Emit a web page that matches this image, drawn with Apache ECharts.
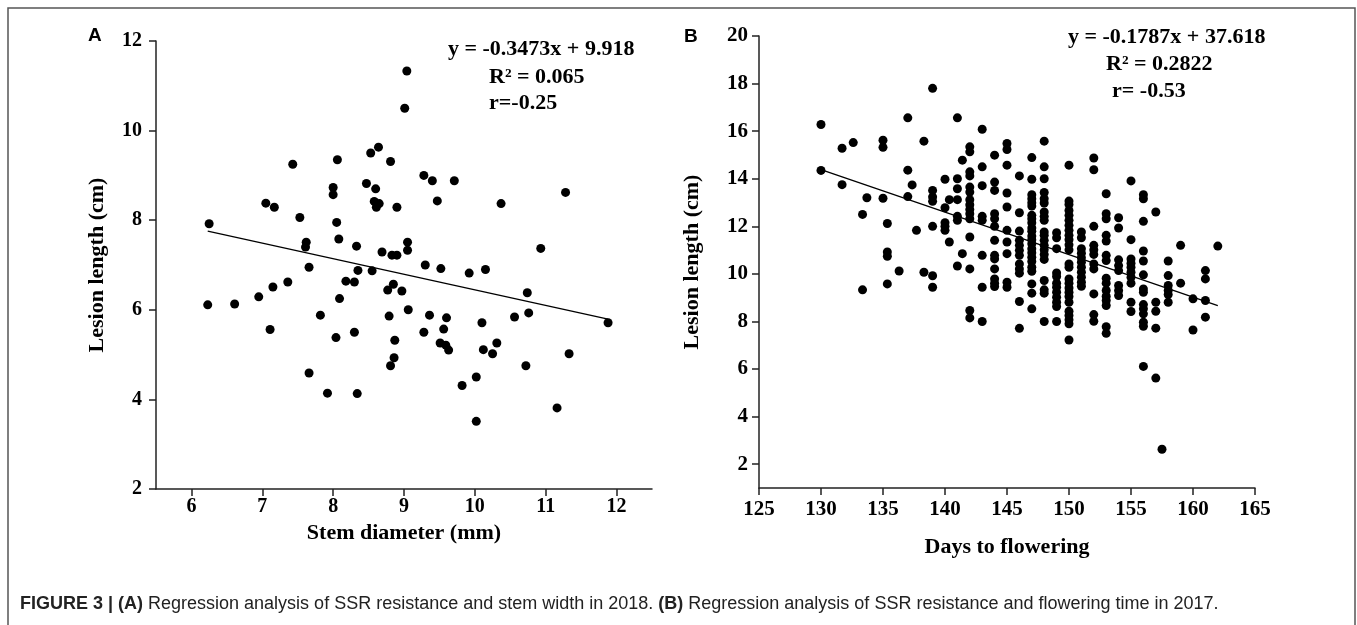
<!DOCTYPE html>
<html lang="en">
<head>
<meta charset="utf-8">
<style>
  html, body { margin: 0; padding: 0; background: #fff; }
  #chart { width: 1357px; height: 625px; }
</style>
</head>
<body>
<div id="chart"></div>
<script src="https://cdn.jsdelivr.net/npm/echarts@6/dist/echarts.min.js"></script>
<script>
// panel A: stem diameter (mm) vs lesion length (cm), 2018
var stemDiameter = [
  9.04, 9.01, 8.64, 8.53, 7.43, 8.06, 8.81, 8.47, 8.60, 8.00,
  8.00, 9.28, 9.40, 9.71, 7.05, 7.17, 8.58, 8.65, 8.61, 8.90,
  9.47, 7.53, 8.05, 6.25, 7.62, 7.61, 8.08, 8.33, 8.69, 8.83,
  8.90, 9.05, 9.05, 9.30, 9.52, 7.66, 8.35, 8.55, 8.18, 8.30,
  7.36, 7.15, 6.95, 6.61, 6.23, 8.85, 8.77, 8.97, 8.09, 9.06,
  7.82, 8.79, 9.36, 9.60, 9.56, 7.11, 8.30, 9.28, 8.04, 8.87,
  9.51, 9.59, 9.63, 8.86, 8.81, 7.66, 7.92, 8.34, 11.28, 10.37,
  10.93, 9.92, 10.15, 10.74, 10.56, 10.76, 10.10, 11.88, 10.31, 10.12,
  10.25, 11.33, 10.72, 10.02, 9.82, 11.16, 10.02
];
var lesionA = [
  11.33, 10.50, 9.63, 9.50, 9.25, 9.35, 9.31, 8.82, 8.70, 8.73,
  8.57, 9.00, 8.88, 8.88, 8.38, 8.29, 8.42, 8.37, 8.29, 8.29,
  8.43, 8.06, 7.95, 7.92, 7.51, 7.40, 7.58, 7.42, 7.29, 7.22,
  7.22, 7.51, 7.33, 7.00, 6.92, 6.95, 6.88, 6.87, 6.64, 6.62,
  6.62, 6.51, 6.29, 6.13, 6.11, 6.57, 6.44, 6.42, 6.25, 6.00,
  5.88, 5.86, 5.88, 5.82, 5.57, 5.56, 5.50, 5.50, 5.38, 5.32,
  5.26, 5.21, 5.10, 4.93, 4.75, 4.59, 4.14, 4.13, 8.62, 8.37,
  7.37, 6.82, 6.90, 6.38, 5.84, 5.93, 5.71, 5.71, 5.26, 5.11,
  5.02, 5.02, 4.75, 4.50, 4.31, 3.81, 3.51
];
var fitA = [-0.3473, 9.918];

// panel B: days to flowering vs lesion length (cm), 2017
var flowerDays = [
  130, 131.7, 132.6, 133.35, 133.7, 135, 135.35, 136.3, 137, 137.35,
  137.7, 138.3, 139, 140, 140.35, 141, 141.4, 142, 143, 144,
  145, 146, 147, 148, 149, 150, 151, 152, 153, 154,
  155, 156, 157, 157.5, 158, 159, 160, 161, 162
];
var lesionB = [
  [16.28, 14.35],
  [15.28, 13.75],
  [15.52],
  [12.50, 9.33],
  [13.20],
  [15.62, 15.32, 13.18],
  [12.12, 10.92, 10.74, 9.58],
  [10.12],
  [16.56, 14.36, 13.25],
  [13.74],
  [11.83],
  [15.58, 10.07],
  [17.80, 13.51, 13.23, 13.05, 12.00, 9.92, 9.44],
  [13.98, 12.78, 12.15, 12.00, 11.83],
  [13.12, 11.34],
  [16.56, 14.00, 13.58, 13.12, 12.42, 12.25, 10.33],
  [14.78, 10.85],
  [15.34, 15.13, 14.29, 14.12, 13.65, 13.44, 13.12, 12.91, 12.71, 12.53, 12.32, 11.55, 10.21, 8.46, 8.15],
  [16.08, 14.50, 13.71, 12.42, 12.25, 10.78, 9.44, 8.00],
  [14.99, 13.86, 13.51, 12.53, 12.32, 12.00, 11.41, 10.78, 10.63, 10.21, 9.79, 9.61, 9.47],
  [15.48, 15.23, 14.57, 13.40, 12.81, 11.83, 11.34, 10.85, 9.65, 9.44],
  [14.12, 12.57, 11.80, 11.41, 11.20, 10.99, 10.78, 10.42, 10.21, 10.03, 8.84, 7.71],
  [14.89, 13.98, 13.33, 13.16, 12.99, 12.85, 12.46, 12.32, 12.15, 11.93, 11.79, 11.59, 11.44, 11.27, 11.06, 10.89, 10.70, 10.52, 10.28, 10.11, 9.58, 9.19, 8.53],
  [15.58, 14.50, 14.00, 13.42, 13.16, 12.98, 12.60, 12.42, 12.25, 11.76, 11.62, 11.41, 11.20, 11.01, 10.82, 10.61, 9.72, 9.33, 9.19, 8.00],
  [11.73, 11.52, 11.06, 10.04, 9.89, 9.61, 9.44, 9.23, 9.02, 8.81, 8.63, 8.00],
  [14.57, 13.06, 12.92, 12.67, 12.46, 12.25, 12.04, 11.83, 11.62, 11.44, 11.22, 11.01, 10.42, 10.28, 9.79, 9.61, 9.41, 9.23, 9.05, 8.81, 8.43, 8.25, 8.07, 7.90, 7.22],
  [11.76, 11.52, 11.06, 10.87, 10.68, 10.49, 10.28, 10.07, 9.86, 9.65, 9.48],
  [14.87, 14.38, 12.00, 11.20, 11.01, 10.82, 10.42, 10.21, 9.16, 8.29, 8.01],
  [13.37, 12.53, 12.32, 11.62, 11.38, 10.78, 10.56, 9.82, 9.61, 9.30, 9.06, 8.88, 8.67, 7.78, 7.50],
  [12.36, 11.93, 10.59, 10.35, 10.14, 9.51, 9.30, 9.09],
  [13.91, 11.44, 10.63, 10.45, 10.28, 10.07, 9.86, 9.61, 8.81, 8.42],
  [13.33, 13.16, 12.21, 10.96, 10.54, 9.96, 9.37, 9.23, 8.71, 8.53, 8.32, 7.97, 7.80, 6.11],
  [12.60, 8.81, 8.43, 7.72, 5.62],
  [2.63],
  [10.54, 9.93, 9.51, 9.30, 9.13, 8.81],
  [11.20, 9.61],
  [8.95, 7.64],
  [10.14, 9.79, 8.88, 8.18],
  [11.17]
];
var fitB = [-0.1787, 37.618];

var ticksAx = [6, 7, 8, 9, 10, 11, 12];
var ticksAy = [2, 4, 6, 8, 10, 12];
var ticksBx = [125, 130, 135, 140, 145, 150, 155, 160, 165];
var ticksBy = [2, 4, 6, 8, 10, 12, 14, 16, 18, 20];

var caption = '{b|FIGURE 3 | (A)} Regression analysis of SSR resistance and stem width in 2018. ' +
  '{b|(B)} Regression analysis of SSR resistance and flowering time in 2017.';

// build point lists
var pointsA = stemDiameter.map(function (x, i) { return [x, lesionA[i]]; });
var pointsB = [];
flowerDays.forEach(function (d, i) {
  lesionB[i].forEach(function (v) { pointsB.push([d, v]); });
});

function fitLine(xs, fit) {
  var lo = Math.min.apply(null, xs), hi = Math.max.apply(null, xs);
  return [[lo, fit[0] * lo + fit[1]], [hi, fit[0] * hi + fit[1]]];
}

var serif = '"Liberation Serif", "Times New Roman", serif';
var sans = '"Liberation Sans", Arial, sans-serif';

function valueAxis(grid, min, max, ticks, name, gap, labelMargin, fontSize, rotateName) {
  return {
    type: 'value', gridIndex: grid, min: min, max: max,
    name: name, nameLocation: 'middle', nameGap: gap,
    nameRotate: rotateName ? 90 : 0,
    nameTextStyle: { fontFamily: serif, fontWeight: 'bold', fontSize: 22, color: '#000' },
    axisLine: { show: true, lineStyle: { color: '#222', width: 1.5 } },
    axisTick: { show: true, length: 7, customValues: ticks, lineStyle: { color: '#222', width: 1.5 } },
    axisLabel: { customValues: ticks, margin: labelMargin, fontFamily: serif, fontWeight: 'bold', fontSize: fontSize, color: '#000' },
    splitLine: { show: false }
  };
}

var chart = echarts.init(document.getElementById('chart'));
var eqStyle = { fontFamily: serif, fontWeight: 'bold', fontSize: 22, fill: '#000', textVerticalAlign: 'middle' };
function txt(x, y, s) {
  return { type: 'text', x: x, y: y, style: Object.assign({ text: s }, eqStyle) };
}

chart.setOption({
  animation: false,
  grid: [
    { left: 156, top: 41, width: 496, height: 448 },
    { left: 759, top: 36, width: 496, height: 452 }
  ],
  xAxis: [
    valueAxis(0, 5.5, 12.5, ticksAx, 'Stem diameter (mm)', 30, 8, 20, false),
    valueAxis(1, 125, 165, ticksBx, 'Days to flowering', 48, 11, 21, false)
  ],
  yAxis: [
    valueAxis(0, 2, 12, ticksAy, 'Lesion length (cm)', 48, 14, 20, true),
    valueAxis(1, 1, 20, ticksBy, 'Lesion length (cm)', 56, 11, 21, true)
  ],
  series: [
    { type: 'scatter', xAxisIndex: 0, yAxisIndex: 0, data: pointsA, symbolSize: 9,
      itemStyle: { color: '#000', opacity: 1 } },
    { type: 'line', xAxisIndex: 0, yAxisIndex: 0, data: fitLine(stemDiameter, fitA), symbol: 'none',
      lineStyle: { color: '#000', width: 1.3 } },
    { type: 'scatter', xAxisIndex: 1, yAxisIndex: 1, data: pointsB, symbolSize: 9,
      itemStyle: { color: '#000', opacity: 1 } },
    { type: 'line', xAxisIndex: 1, yAxisIndex: 1, data: fitLine(flowerDays, fitB), symbol: 'none',
      lineStyle: { color: '#000', width: 1.3 } }
  ],
  graphic: [
    { type: 'rect', shape: { x: 8, y: 8, width: 1347, height: 700 },
      style: { fill: 'none', stroke: '#555', lineWidth: 1.5 } },
    { type: 'text', x: 88, y: 36, style: { text: 'A', fontFamily: sans, fontWeight: 'bold', fontSize: 19, fill: '#000', textVerticalAlign: 'middle' } },
    { type: 'text', x: 684, y: 37, style: { text: 'B', fontFamily: sans, fontWeight: 'bold', fontSize: 19, fill: '#000', textVerticalAlign: 'middle' } },
    txt(448, 49, 'y = -0.3473x + 9.918'),
    txt(489, 77, 'R² = 0.065'),
    txt(489, 103, 'r=-0.25'),
    txt(1068, 37, 'y = -0.1787x + 37.618'),
    txt(1106, 64, 'R² = 0.2822'),
    txt(1112, 91, 'r= -0.53'),
    { type: 'text', x: 20, y: 604, style: {
      text: caption, fontFamily: sans, fontSize: 18, fill: '#222', textVerticalAlign: 'middle',
      rich: { b: { fontFamily: sans, fontSize: 18, fontWeight: 'bold', fill: '#222' } }
    } }
  ]
});
</script>
</body>
</html>
